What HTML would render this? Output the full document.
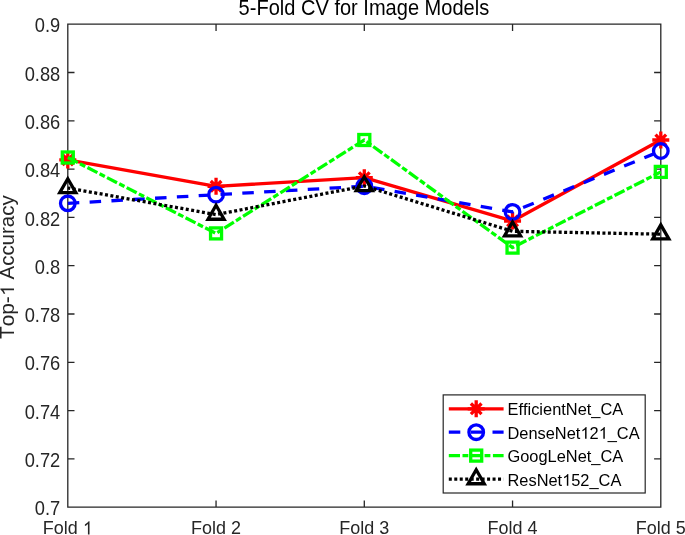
<!DOCTYPE html><html><head><meta charset="utf-8"><style>html,body{margin:0;padding:0;background:#fff;width:685px;height:535px;overflow:hidden}svg{display:block;will-change:transform}text{font-family:"Liberation Sans",sans-serif;font-kerning:none}</style></head><body>
<svg width="685" height="535" viewBox="0 0 685 535">
<path d="M67.8,24.2H660.8V507.2H67.8ZM67.80,507.2v-6.7M67.80,24.2v6.7M216.05,507.2v-6.7M216.05,24.2v6.7M364.30,507.2v-6.7M364.30,24.2v6.7M512.55,507.2v-6.7M512.55,24.2v6.7M660.80,507.2v-6.7M660.80,24.2v6.7M67.8,507.20h6.7M660.8,507.20h-6.7M67.8,458.90h6.7M660.8,458.90h-6.7M67.8,410.60h6.7M660.8,410.60h-6.7M67.8,362.30h6.7M660.8,362.30h-6.7M67.8,314.00h6.7M660.8,314.00h-6.7M67.8,265.70h6.7M660.8,265.70h-6.7M67.8,217.40h6.7M660.8,217.40h-6.7M67.8,169.10h6.7M660.8,169.10h-6.7M67.8,120.80h6.7M660.8,120.80h-6.7M67.8,72.50h6.7M660.8,72.50h-6.7M67.8,24.20h6.7M660.8,24.20h-6.7" fill="none" stroke="#262626" stroke-width="1.3"/>
<text transform="translate(60.3,515.30) scale(1,1.065)" font-size="18.3" fill="#262626" text-anchor="end">0.7</text>
<text transform="translate(60.3,467.00) scale(1,1.065)" font-size="18.3" fill="#262626" text-anchor="end">0.72</text>
<text transform="translate(60.3,418.70) scale(1,1.065)" font-size="18.3" fill="#262626" text-anchor="end">0.74</text>
<text transform="translate(60.3,370.40) scale(1,1.065)" font-size="18.3" fill="#262626" text-anchor="end">0.76</text>
<text transform="translate(60.3,322.10) scale(1,1.065)" font-size="18.3" fill="#262626" text-anchor="end">0.78</text>
<text transform="translate(60.3,273.80) scale(1,1.065)" font-size="18.3" fill="#262626" text-anchor="end">0.8</text>
<text transform="translate(60.3,225.50) scale(1,1.065)" font-size="18.3" fill="#262626" text-anchor="end">0.82</text>
<text transform="translate(60.3,177.20) scale(1,1.065)" font-size="18.3" fill="#262626" text-anchor="end">0.84</text>
<text transform="translate(60.3,128.90) scale(1,1.065)" font-size="18.3" fill="#262626" text-anchor="end">0.86</text>
<text transform="translate(60.3,80.60) scale(1,1.065)" font-size="18.3" fill="#262626" text-anchor="end">0.88</text>
<text transform="translate(60.3,32.30) scale(1,1.065)" font-size="18.3" fill="#262626" text-anchor="end">0.9</text>
<g transform="translate(67.80,534.4) scale(1,1.065)"><text x="-25.01" y="0" font-size="18" fill="#262626">Fold &#8199;</text><path d="M21.71,0.00L20.13,0.00L20.13,-9.69Q19.56,-9.17 18.71,-8.69Q17.86,-8.21 17.11,-7.94L17.11,-9.41Q18.44,-10.01 19.45,-10.88Q20.46,-11.74 20.86,-12.38L21.71,-12.38Z" fill="#262626"/></g>
<g transform="translate(216.05,534.4) scale(1,1.065)"><text x="-25.01" y="0" font-size="18" fill="#262626">Fold 2</text></g>
<g transform="translate(364.30,534.4) scale(1,1.065)"><text x="-25.01" y="0" font-size="18" fill="#262626">Fold 3</text></g>
<g transform="translate(512.55,534.4) scale(1,1.065)"><text x="-25.01" y="0" font-size="18" fill="#262626">Fold 4</text></g>
<g transform="translate(660.80,534.4) scale(1,1.065)"><text x="-25.01" y="0" font-size="18" fill="#262626">Fold 5</text></g>
<text transform="translate(363.9,14.9) scale(1,1.065)" font-size="20.05" fill="#000" text-anchor="middle">5-Fold CV for Image Models</text>
<g transform="translate(14,339.0) scale(1,1.05) rotate(-90)"><text x="0.00" y="0" font-size="19.8" fill="#262626">Top-&#8199;</text><path d="M48.09,0.00L46.35,0.00L46.35,-10.66Q45.72,-10.08 44.79,-9.56Q43.85,-9.03 43.03,-8.73L43.03,-10.35Q44.49,-11.01 45.60,-11.96Q46.72,-12.92 47.15,-13.62L48.09,-13.62Z" fill="#262626"/></g>
<text transform="translate(14,279.5) scale(1,1.035) rotate(-90)" font-size="19.8" fill="#262626">Accuracy</text>
<polyline points="67.80,159.90 216.05,186.30 364.30,177.70 512.55,221.00 660.80,140.00" fill="none" stroke="#ff0000" stroke-width="3.3" stroke-linejoin="round"/>
<path d="M59.30,159.90h17.0M67.80,151.40v17.0M62.50,154.60l10.61,10.61M62.50,165.20l10.61,-10.61" stroke="#ff0000" stroke-width="3.3" fill="none"/>
<path d="M207.55,186.30h17.0M216.05,177.80v17.0M210.75,181.00l10.61,10.61M210.75,191.60l10.61,-10.61" stroke="#ff0000" stroke-width="3.3" fill="none"/>
<path d="M355.80,177.70h17.0M364.30,169.20v17.0M359.00,172.40l10.61,10.61M359.00,183.00l10.61,-10.61" stroke="#ff0000" stroke-width="3.3" fill="none"/>
<path d="M504.05,221.00h17.0M512.55,212.50v17.0M507.25,215.70l10.61,10.61M507.25,226.30l10.61,-10.61" stroke="#ff0000" stroke-width="3.3" fill="none"/>
<path d="M652.30,140.00h17.0M660.80,131.50v17.0M655.50,134.70l10.61,10.61M655.50,145.30l10.61,-10.61" stroke="#ff0000" stroke-width="3.3" fill="none"/>
<polyline points="67.80,203.30 216.05,194.70 364.30,186.20 512.55,211.90 660.80,151.00" fill="none" stroke="#0000ff" stroke-width="3.3" stroke-linejoin="round" stroke-dasharray="11.5 10.35"/>
<circle cx="67.80" cy="203.30" r="7.3" stroke="#0000ff" stroke-width="3.3" fill="none"/>
<circle cx="216.05" cy="194.70" r="7.3" stroke="#0000ff" stroke-width="3.3" fill="none"/>
<circle cx="364.30" cy="186.20" r="7.3" stroke="#0000ff" stroke-width="3.3" fill="none"/>
<circle cx="512.55" cy="211.90" r="7.3" stroke="#0000ff" stroke-width="3.3" fill="none"/>
<circle cx="660.80" cy="151.00" r="7.3" stroke="#0000ff" stroke-width="3.3" fill="none"/>
<polyline points="67.80,157.50 216.05,233.40 364.30,140.00 512.55,247.60 660.80,171.90" fill="none" stroke="#00ff00" stroke-width="3.3" stroke-linejoin="round" stroke-dasharray="11.2 2.5 5.85 2.5"/>
<rect x="62.30" y="152.00" width="11.0" height="11.0" stroke="#00ff00" stroke-width="3.3" fill="none"/>
<rect x="210.55" y="227.90" width="11.0" height="11.0" stroke="#00ff00" stroke-width="3.3" fill="none"/>
<rect x="358.80" y="134.50" width="11.0" height="11.0" stroke="#00ff00" stroke-width="3.3" fill="none"/>
<rect x="507.05" y="242.10" width="11.0" height="11.0" stroke="#00ff00" stroke-width="3.3" fill="none"/>
<rect x="655.30" y="166.40" width="11.0" height="11.0" stroke="#00ff00" stroke-width="3.3" fill="none"/>
<polyline points="67.80,188.00 216.05,214.60 364.30,186.00 512.55,231.30 660.80,234.20" fill="none" stroke="#000000" stroke-width="3.3" stroke-linejoin="round" stroke-dasharray="3 2.47" stroke-dashoffset="0.5"/>
<path d="M67.80,178.70L75.85,192.65L59.75,192.65Z" stroke="#000000" stroke-width="3.3" fill="none" stroke-linejoin="miter" stroke-miterlimit="10"/>
<path d="M216.05,205.30L224.10,219.25L208.00,219.25Z" stroke="#000000" stroke-width="3.3" fill="none" stroke-linejoin="miter" stroke-miterlimit="10"/>
<path d="M364.30,176.70L372.35,190.65L356.25,190.65Z" stroke="#000000" stroke-width="3.3" fill="none" stroke-linejoin="miter" stroke-miterlimit="10"/>
<path d="M512.55,222.00L520.60,235.95L504.50,235.95Z" stroke="#000000" stroke-width="3.3" fill="none" stroke-linejoin="miter" stroke-miterlimit="10"/>
<path d="M660.80,224.90L668.85,238.85L652.75,238.85Z" stroke="#000000" stroke-width="3.3" fill="none" stroke-linejoin="miter" stroke-miterlimit="10"/>
<rect x="443.2" y="394.9" width="202.00" height="98.10" fill="#fff" stroke="#262626" stroke-width="1.2"/>
<path d="M448.8,408.8H503.6" stroke="#ff0000" stroke-width="3.3" fill="none"/>
<path d="M467.70,408.80h17.0M476.20,400.30v17.0M470.90,403.50l10.61,10.61M470.90,414.10l10.61,-10.61" stroke="#ff0000" stroke-width="3.3" fill="none"/>
<g transform="translate(507.5,415.40) scale(1,1.04)"><text x="0.00" y="0" font-size="16.4" fill="#000">EfficientNet_CA</text></g>
<path d="M448.8,432.2H503.6" stroke="#0000ff" stroke-width="3.3" fill="none" stroke-dasharray="11.5 10.35"/>
<circle cx="476.20" cy="432.20" r="7.3" stroke="#0000ff" stroke-width="3.3" fill="none"/>
<g transform="translate(507.5,438.80) scale(1,1.04)"><text x="0.00" y="0" font-size="16.4" fill="#000">DenseNet&#8199;2&#8199;_CA</text><path d="M79.04,0.00L77.60,0.00L77.60,-8.83Q77.08,-8.35 76.30,-7.92Q75.53,-7.48 74.85,-7.23L74.85,-8.57Q76.06,-9.12 76.98,-9.91Q77.90,-10.70 78.26,-11.28L79.04,-11.28Z" fill="#000"/><path d="M97.28,0.00L95.84,0.00L95.84,-8.83Q95.32,-8.35 94.54,-7.92Q93.77,-7.48 93.09,-7.23L93.09,-8.57Q94.30,-9.12 95.22,-9.91Q96.14,-10.70 96.50,-11.28L97.28,-11.28Z" fill="#000"/></g>
<path d="M448.8,455.6H503.6" stroke="#00ff00" stroke-width="3.3" fill="none" stroke-dasharray="11.2 2.5 5.85 2.5"/>
<rect x="470.70" y="450.10" width="11.0" height="11.0" stroke="#00ff00" stroke-width="3.3" fill="none"/>
<g transform="translate(507.5,462.20) scale(1,1.04)"><text x="0.00" y="0" font-size="16.4" fill="#000">GoogLeNet_CA</text></g>
<path d="M448.8,479.1H503.6" stroke="#000000" stroke-width="3.3" fill="none" stroke-dasharray="3 2.47"/>
<path d="M476.20,469.80L484.25,483.75L468.15,483.75Z" stroke="#000000" stroke-width="3.3" fill="none" stroke-linejoin="miter" stroke-miterlimit="10"/>
<g transform="translate(507.5,485.70) scale(1,1.04)"><text x="0.00" y="0" font-size="16.4" fill="#000">ResNet&#8199;52_CA</text><path d="M60.80,0.00L59.35,0.00L59.35,-8.83Q58.83,-8.35 58.06,-7.92Q57.29,-7.48 56.61,-7.23L56.61,-8.57Q57.82,-9.12 58.74,-9.91Q59.66,-10.70 60.02,-11.28L60.80,-11.28Z" fill="#000"/></g>
</svg></body></html>
